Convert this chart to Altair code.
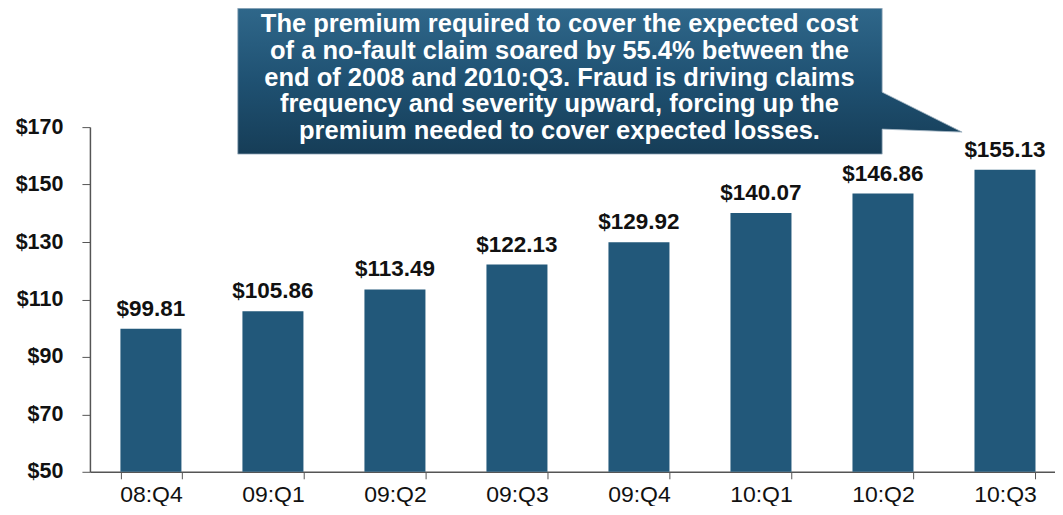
import altair as alt
import pandas as pd

# ---- data ----
QUARTERS = ["08:Q4", "09:Q1", "09:Q2", "09:Q3", "09:Q4", "10:Q1", "10:Q2", "10:Q3"]
PREMIUM = [99.81, 105.86, 113.49, 122.13, 129.92, 140.07, 146.86, 155.13]
Y_TICKS = [50, 70, 90, 110, 130, 150, 170]
Y_MIN, Y_MAX = 50, 170
CALLOUT_LINES = [
    "The premium required to cover the expected cost",
    "of a no-fault claim soared by 55.4% between the",
    "end of 2008 and 2010:Q3.  Fraud is driving claims",
    "frequency and severity upward, forcing up the",
    "premium needed to cover expected losses.",
]

df = pd.DataFrame({"Quarter": QUARTERS, "Premium": PREMIUM})

BAR_COLOR = "#22587a"
FONT = "Liberation Sans"

x_enc = alt.X(
    "Quarter:N",
    sort=QUARTERS,
    scale=alt.Scale(paddingInner=0.5, paddingOuter=0.25, range=[0, 977]),
    axis=alt.Axis(
        title=None,
        labelAngle=0,
        labelFont=FONT,
        labelFontSize=23,
        labelColor="#111111",
        labelPadding=5,
        tickBand="extent",
        tickSize=7,
        tickColor="#555555",
        domainColor="#555555",
        domainWidth=1.5,
        grid=False,
    ),
)
y_enc = alt.Y(
    "Premium:Q",
    scale=alt.Scale(domain=[Y_MIN, Y_MAX], nice=False, zero=False),
    axis=alt.Axis(
        title=None,
        values=Y_TICKS,
        labelExpr="'$' + datum.value",
        labelFont=FONT,
        labelFontSize=21.5,
        labelFontWeight="bold",
        labelColor="#111111",
        labelPadding=19,
        tickSize=8,
        tickColor="#555555",
        domainColor="#555555",
        domainWidth=1.5,
        grid=False,
    ),
)

bars = alt.Chart(df).mark_bar(color=BAR_COLOR).encode(
    x=x_enc, y=y_enc, y2=alt.datum(Y_MIN)
)

labels = alt.Chart(df).mark_text(
    font=FONT, fontSize=22.5, fontWeight="bold", color="#111111",
    baseline="alphabetic", dy=-13,
).encode(
    x=x_enc,
    y=y_enc,
    text=alt.Text("Premium:Q", format="$.2f"),
)

one = alt.Data(values=[{"k": 0}])

# callout outline, drawn relative to its top-left corner
CALLOUT_PATH = "M0,0 L645,0 L645,84 L725,124 L645,121 L645,146 L0,146 Z"
callout_shape = alt.Chart(one).mark_point(
    shape=CALLOUT_PATH,
    size=4,
    filled=True,
    opacity=1,
    fill=alt.LinearGradient(
        gradient="linear",
        x1=0, y1=0, x2=0, y2=1,
        stops=[
            alt.GradientStop(color="#2f678a", offset=0),
            alt.GradientStop(color="#1f5172", offset=0.5),
            alt.GradientStop(color="#163d57", offset=1),
        ],
    ),
    stroke="#9fb3c2",
    strokeWidth=0.8,
).encode(x=alt.value(148), y=alt.value(-119))

callout_text = alt.Chart(one).mark_text(
    text=CALLOUT_LINES,
    font=FONT,
    fontSize=25.5,
    fontWeight="bold",
    color="white",
    align="center",
    baseline="alphabetic",
    lineHeight=26.7,
).encode(x=alt.value(470), y=alt.value(-95))

chart = (
    alt.layer(bars, labels, callout_shape, callout_text)
    .properties(
        width=966,
        height=345,
        autosize=alt.AutoSizeParams(type="none"),
        padding={"left": 82, "top": 119, "right": 0, "bottom": 34},
    )
    .configure_view(stroke="transparent", strokeWidth=0)
    .configure_axis(grid=False)
    .configure(background="white", style={"cell": {"stroke": "transparent", "strokeWidth": 0}})
)

chart.save("out.html", embed_options={"renderer": "svg", "actions": False})
